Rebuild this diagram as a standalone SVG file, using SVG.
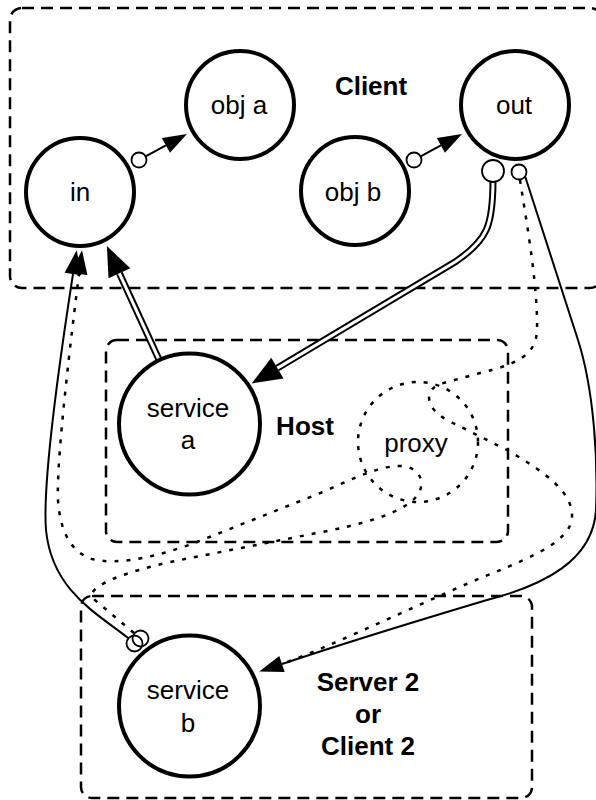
<svg xmlns="http://www.w3.org/2000/svg" width="596" height="800" viewBox="0 0 596 800">
  <style>
    .box { fill: none; stroke: #000; stroke-width: 2.5; stroke-dasharray: 12 7; }
    .node { fill: #fff; stroke: #000; stroke-width: 4; }
    .proxy { fill: none; stroke: #000; stroke-width: 2.5; stroke-dasharray: 4 8; }
    .port { fill: #fff; stroke: #000; stroke-width: 1.8; }
    .solid { fill: none; stroke: #000; stroke-width: 2; }
    .dotted { fill: none; stroke: #000; stroke-width: 2.5; stroke-dasharray: 4 8; }
    .dbl-outer { fill: none; stroke: #000; stroke-width: 7; }
    .dbl-inner { fill: none; stroke: #fff; stroke-width: 3; }
    text { font-family: "Liberation Sans", Arial, Helvetica, sans-serif; font-size: 26px; text-anchor: middle; fill: #000; }
    .label { font-weight: bold; }
  </style>
  <defs>
    <marker id="arrow" markerUnits="userSpaceOnUse" markerWidth="24" markerHeight="17" refX="0" refY="8.5" orient="auto" overflow="visible">
      <path d="M0,0 L24,8.5 L0,17 z" fill="#000"/>
    </marker>
    <marker id="arrow-big" markerUnits="userSpaceOnUse" markerWidth="30" markerHeight="24" refX="0" refY="12" orient="auto" overflow="visible">
      <path d="M0,0 L30,12 L0,24 z" fill="#000"/>
    </marker>
  </defs>

  <!-- containers -->
  <g id="client">
    <rect class="box" x="10" y="8" width="592" height="280" rx="12"/>
    <text class="label" x="371" y="95">Client</text>
  </g>
  <g id="host">
    <rect class="box" x="106" y="340" width="402" height="202" rx="11"/>
    <text class="label" x="305" y="435">Host</text>
  </g>
  <g id="server2">
    <rect class="box" x="81" y="596" width="451" height="202" rx="11"/>
    <text class="label" x="368" y="691">Server 2</text>
    <text class="label" x="368" y="723">or</text>
    <text class="label" x="368" y="755">Client 2</text>
  </g>

  <!-- connectors -->
  <g id="connectors">
    <!-- in -> obj a -->
    <path class="solid" d="M145.6,156.4 L165.9,145.4" marker-end="url(#arrow)"/>
    <!-- obj b -> out -->
    <path class="solid" d="M420.6,156.4 L440.9,145.4" marker-end="url(#arrow)"/>

    <!-- out => service a -->
    <path class="dbl-outer" d="M493,180 C493,225 488,240 455,262 L277.4,368.1" marker-end="url(#arrow-big)"/>
    <path class="dbl-inner" d="M493,180 C493,225 488,240 455,262 L277.4,368.1"/>

    <!-- service a => in -->
    <path class="dbl-outer" d="M161,364 L119.4,273.3" marker-end="url(#arrow-big)"/>
    <path class="dbl-inner" d="M161,364 L119.4,273.3"/>

    <!-- service b -> in (direct) -->
    <path class="solid" d="M128,638 C100,615 52,592 46,530 C42,480 62,345 73,274" marker-end="url(#arrow)"/>

    <!-- service b -> proxy -> in -->
    <path class="dotted" d="M134,633 L96,601 Q88,594 97,588 Q110,576 170,562 L317,533 C360,525 400,514 415,498 C428,484 420,466 400,466 C382,466 360,475 323,492 L197,542 C160,556 118,566 92,559 C70,552 60,530 58,500 C56,460 72,330 79,274" marker-end="url(#arrow)"/>

    <!-- out -> service b (direct) -->
    <path class="solid" d="M525,176 L578,340 C594,390 598,460 596,510 C593,560 545,585 487,600 C420,620 330,648 282,664" marker-end="url(#arrow)"/>

    <!-- out -> proxy -> service b -->
    <path class="dotted" d="M520,180 C528,230 538,290 537,330 C536,355 518,364 480,373 L440,384 C424,390 425,408 447,420 L507,450 C545,472 573,492 572,517 C571,540 535,556 493,573 C440,594 335,645 282,664"/>

    <!-- ports -->
    <circle class="port" cx="139" cy="160" r="7.5"/>
    <circle class="port" cx="414" cy="160" r="7.5"/>
    <circle class="port" cx="493" cy="171" r="11"/>
    <circle class="port" cx="519" cy="172" r="7.5"/>
    <circle class="port" cx="134.5" cy="643.5" r="8" fill="none" style="fill:none"/>
    <circle class="port" cx="140.5" cy="638.5" r="8" style="fill:none"/>
  </g>

  <!-- nodes -->
  <g id="node-in">
    <circle class="node" cx="80" cy="192" r="54"/>
    <text x="80" y="201">in</text>
  </g>
  <g id="node-obj-a">
    <circle class="node" cx="240" cy="105" r="54"/>
    <text x="239" y="114">obj a</text>
  </g>
  <g id="node-obj-b">
    <circle class="node" cx="355" cy="191" r="54"/>
    <text x="353" y="201">obj b</text>
  </g>
  <g id="node-out">
    <circle class="node" cx="515" cy="105" r="54"/>
    <text x="514" y="114">out</text>
  </g>
  <g id="node-service-a">
    <circle class="node" cx="189.5" cy="424" r="70.5"/>
    <text x="188" y="417">service</text>
    <text x="188" y="449">a</text>
  </g>
  <g id="node-proxy">
    <circle class="proxy" cx="418" cy="442" r="60"/>
    <text x="416" y="452">proxy</text>
  </g>
  <g id="node-service-b">
    <circle class="node" cx="189.5" cy="706" r="70.5"/>
    <text x="188" y="699">service</text>
    <text x="188" y="732">b</text>
  </g>
</svg>
